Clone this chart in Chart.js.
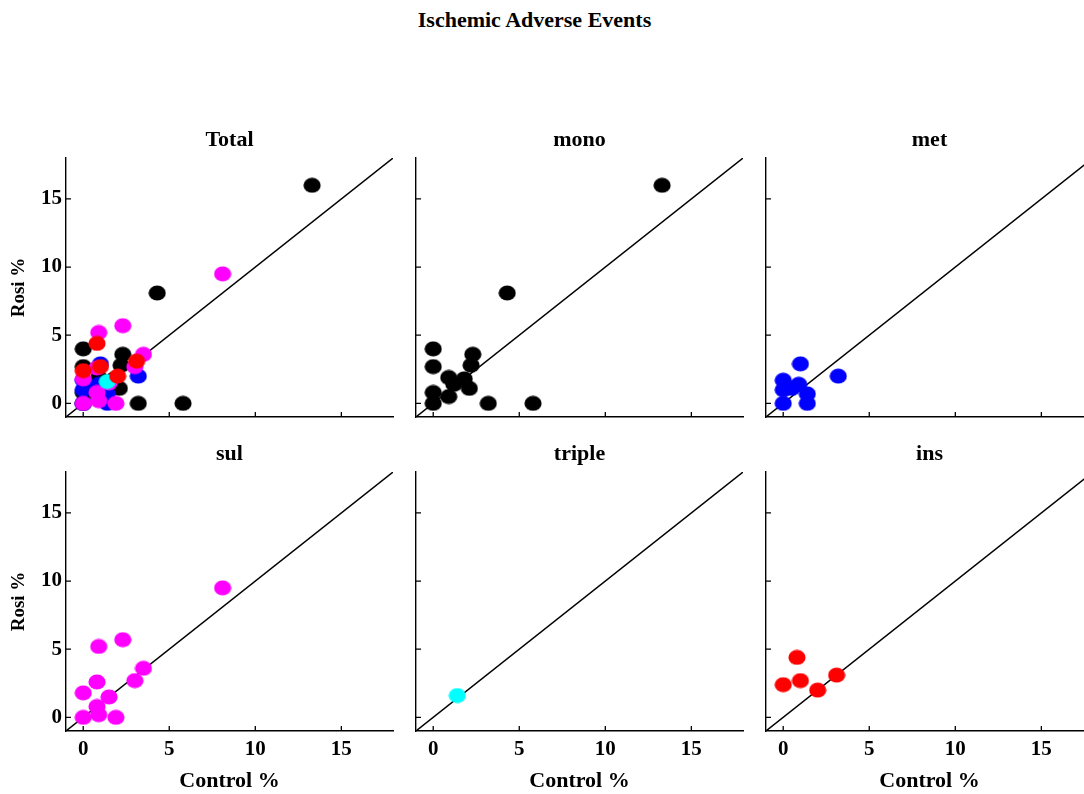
<!DOCTYPE html>
<html>
<head>
<meta charset="utf-8">
<script src="https://cdn.jsdelivr.net/npm/chart.js@4/dist/chart.umd.min.js"></script>
<style>
  html, body { margin: 0; padding: 0; background: #fff; overflow: hidden; width: 1084px; height: 794px; }
  #title { position: absolute; left: 0; width: 1069px; top: 7px; text-align: center;
           font: bold 22px "Liberation Serif", "Times New Roman", serif; }
  .panel { position: absolute; }
</style>
</head>
<body>
<div id="title">Ischemic Adverse Events</div>
<div id="wrap"></div>
<script>
// data: [control %, rosi %]
const tickValues = [0, 5, 10, 15];
const axisMin = -1, axisMax = 18;

const monoPts = [[0, 4.0], [0, 2.7], [0, 0.8], [0, 0], [0.9, 1.9], [0.9, 0.5], [1.2, 1.4],
  [1.8, 1.8], [2.1, 1.1], [2.3, 3.6], [2.2, 2.8], [3.2, 0], [5.8, 0], [4.3, 8.1], [13.3, 16.0]];
const metPts = [[0, 0], [0, 1.0], [0, 1.7], [0.5, 1.1], [0.9, 1.4], [1.0, 2.9], [1.4, 0.7],
  [1.4, 0], [3.2, 2.0]];
const sulPts = [[8.1, 9.5], [2.3, 5.7], [0.9, 5.2], [3.5, 3.6], [3.0, 2.7], [0.8, 2.6],
  [0, 1.8], [1.5, 1.5], [0.8, 0.8], [0.9, 0.2], [0, 0], [1.9, 0]];
const triplePts = [[1.4, 1.6]];
const insPts = [[0.8, 4.4], [0, 2.4], [1.0, 2.7], [2.0, 2.0], [3.1, 3.1]];

const groups = [
  { name: "mono", pts: monoPts, color: "#000000" },
  { name: "met", pts: metPts, color: "#0000ff" },
  { name: "sul", pts: sulPts, color: "#ff00ff" },
  { name: "triple", pts: triplePts, color: "#00ffff" },
  { name: "ins", pts: insPts, color: "#ff0000" },
];

const serif = '"Liberation Serif", "Times New Roman", serif';

// slightly flattened dots like the original
function dot(color) {
  const c = document.createElement("canvas");
  c.width = 18; c.height = 16;
  const g = c.getContext("2d");
  g.fillStyle = color;
  g.beginPath();
  g.ellipse(9, 8, 8.6, 7.6, 0, 0, Math.PI * 2);
  g.fill();
  return c;
}

// ticks point into the plot
const innerTicks = {
  id: "innerTicks",
  afterDatasetsDraw(chart) {
    const { ctx, chartArea, scales } = chart;
    ctx.save();
    ctx.strokeStyle = "#000";
    ctx.lineWidth = 1.3;
    tickValues.forEach((v) => {
      const px = scales.x.getPixelForValue(v);
      const py = scales.y.getPixelForValue(v);
      ctx.beginPath();
      ctx.moveTo(px, chartArea.bottom); ctx.lineTo(px, chartArea.bottom - 5);
      ctx.moveTo(chartArea.left, py); ctx.lineTo(chartArea.left + 5, py);
      ctx.stroke();
    });
    ctx.restore();
  },
};

function makePanel(title, sets, col, row) {
  const top = row === 0 ? 127 : 441;
  const h = row === 0 ? 320 : 353;
  const cv = document.createElement("canvas");
  cv.className = "panel";
  cv.style.left = col * 350 + "px";
  cv.style.top = top + "px";
  cv.style.width = "459px";
  cv.style.height = h + "px";
  document.getElementById("wrap").appendChild(cv);

  const datasets = sets.map((g, i) => ({
    label: g.name,
    data: g.pts.map((p) => ({ x: p[0], y: p[1] })),
    pointStyle: dot(g.color),
    pointRadius: 8,
    order: sets.length - i,
  }));
  datasets.push({
    type: "line",
    label: "y=x",
    data: [{ x: axisMin, y: axisMin }, { x: axisMax, y: axisMax }],
    borderColor: "#000",
    borderWidth: 1.4,
    pointRadius: 0,
    order: 99,
  });

  const leftCol = col === 0, bottomRow = row === 1;
  new Chart(cv, {
    type: "scatter",
    data: { datasets },
    plugins: [innerTicks],
    options: {
      responsive: false,
      animation: false,
      layout: { padding: { left: 0, right: 66, top: 0, bottom: 0 } },
      plugins: {
        legend: { display: false },
        tooltip: { enabled: false },
        title: {
          display: true, text: title, color: "#000", fullSize: false,
          font: { family: serif, size: 22, weight: "bold" },
          padding: { top: 0, bottom: 4.6 },
        },
      },
      scales: {
        x: {
          min: axisMin, max: axisMax,
          afterBuildTicks: (s) => { s.ticks = tickValues.map((v) => ({ value: v })); },
          afterFit: (s) => { s.height = bottomRow ? 63 : 30; },
          grid: { drawOnChartArea: false, drawTicks: false },
          border: { color: "#000", width: 1.4 },
          ticks: { display: bottomRow, color: "#000", padding: 6, maxRotation: 0,
                   font: { family: serif, size: 21, weight: "bold" } },
          title: { display: bottomRow, text: "Control %", color: "#000",
                   font: { family: serif, size: 22, weight: "bold" }, padding: { top: 0, bottom: -1 } },
        },
        y: {
          min: axisMin, max: axisMax,
          afterBuildTicks: (s) => { s.ticks = tickValues.map((v) => ({ value: v })); },
          afterFit: (s) => { s.width = 66; },
          grid: { drawOnChartArea: false, drawTicks: false },
          border: { color: "#000", width: 1.4 },
          ticks: { display: leftCol, color: "#000", padding: 4,
                   font: { family: serif, size: 21, weight: "bold" } },
          title: { display: leftCol, text: "Rosi %", color: "#000",
                   font: { family: serif, size: 19, weight: "bold" }, padding: { top: 8, bottom: 0 } },
        },
      },
    },
  });
}

makePanel("Total", groups, 0, 0);
makePanel("mono", [groups[0]], 1, 0);
makePanel("met", [groups[1]], 2, 0);
makePanel("sul", [groups[2]], 0, 1);
makePanel("triple", [groups[3]], 1, 1);
makePanel("ins", [groups[4]], 2, 1);
</script>
</body>
</html>
